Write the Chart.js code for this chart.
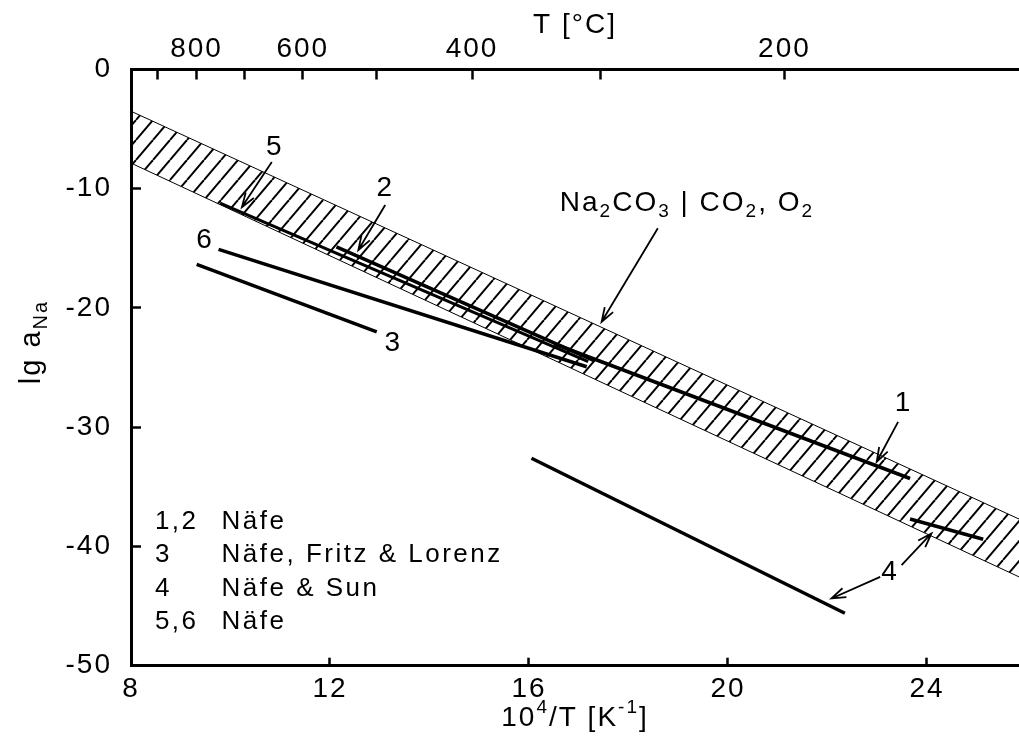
<!DOCTYPE html>
<html>
<head>
<meta charset="utf-8">
<script src="https://cdn.jsdelivr.net/npm/chart.js@4.4.0/dist/chart.umd.min.js"></script>
<style>
  html, body { margin: 0; padding: 0; background: #fff; overflow: hidden; }
</style>
</head>
<body>
<canvas id="chart" width="1019" height="742"></canvas>
<script>
// AXES
const xMin = 8, xMax = 25.85;
const xTicks = [8, 12, 16, 20, 24];
const yTicks = [-50, -40, -30, -20, -10, 0];
const celsiusTicks = [900, 800, 700, 600, 500, 400, 300, 200];
const celsiusLabels = [800, 600, 400, 200];

// HATCHED BAND (Na2CO3 | CO2, O2)
const bandX = [8, 25.85];
const bandUpper = [-3.5, -37.7];
const bandLower = [-7.85, -42.55];

// MEASURED LINES
const line1X = [16.5, 23.66], line1Y = [-23.0, -34.3];
const line2X = [12.13, 17.3], line2Y = [-14.87, -24.4];
const line3X = [9.32, 12.94], line3Y = [-16.34, -22.0];
const line4aX = [16.05, 22.35], line4aY = [-32.6, -45.6];
const line4bX = [23.66, 25.13], line4bY = [-37.7, -39.4];
const line5X = [9.79, 17.19], line5Y = [-11.2, -24.5];
const line6X = [9.76, 17.16], line6Y = [-15.08, -24.93];

// LABELS AND ARROWS
const labelText = ["5", "2", "6", "3", "1", "4"];
const labelX = [10.89, 13.11, 9.49, 13.27, 23.53, 23.26];
const labelY = [-6.5, -9.97, -14.3, -22.92, -28.0, -42.13];

const arrowX0 = [10.83, 13.11, 18.59, 23.42, 23.06, 23.49];
const arrowY0 = [-7.76, -11.37, -13.32, -29.55, -42.55, -41.57];
const arrowX1 = [10.23, 12.57, 17.46, 22.99, 22.08, 24.09];
const arrowY1 = [-11.54, -15.14, -21.16, -32.9, -44.36, -38.91];

// LEGEND BLOCK
const legendKeys = ["1,2", "3", "4", "5,6"];
const legendNames = ["Näfe", "Näfe, Fritz & Lorenz", "Näfe & Sun", "Näfe"];
const legendRowY = [-37.94, -40.73, -43.52, -46.32];
const legendKeyX = 8.48, legendNameX = 9.82;

const FONT = "'Liberation Sans', Arial, sans-serif";

function pts(xs, ys) {
    return xs.map((x, i) => ({ x: x, y: ys[i] }));
}

// hatch pattern for the band
function makeHatch(ctx) {
    const w = 17, h = 20;
    const c = document.createElement("canvas");
    c.width = w; c.height = h;
    const g = c.getContext("2d");
    g.strokeStyle = "#000";
    g.lineWidth = 2;
    for (const dx of [-w, 0, w]) {
        g.beginPath();
        g.moveTo(dx, h);
        g.lineTo(dx + w, 0);
        g.stroke();
    }
    return ctx.createPattern(c, "repeat");
}

// text with sub/superscripts: parts = [[text, 0 normal | 1 sub | 2 sup], ...]
function drawRich(ctx, parts, x, y, size, align) {
    const small = Math.round(size * 0.68);
    let total = 0;
    const widths = parts.map(p => {
        ctx.font = (p[1] ? small : size) + "px " + FONT;
        const w = ctx.measureText(p[0]).width;
        total += w;
        return w;
    });
    let cx = align === "left" ? x : x - total / 2;
    parts.forEach((p, i) => {
        ctx.font = (p[1] ? small : size) + "px " + FONT;
        let dy = 0;
        if (p[1] === 1) dy = size * 0.32;
        if (p[1] === 2) dy = -size * 0.38;
        ctx.fillText(p[0], cx, y + dy);
        cx += widths[i];
    });
}

function drawArrow(ctx, x0, y0, x1, y1) {
    const a = Math.atan2(y1 - y0, x1 - x0);
    const len = 15, spread = 0.33;
    ctx.beginPath();
    ctx.moveTo(x0, y0);
    ctx.lineTo(x1, y1);
    ctx.moveTo(x1 - len * Math.cos(a - spread), y1 - len * Math.sin(a - spread));
    ctx.lineTo(x1, y1);
    ctx.lineTo(x1 - len * Math.cos(a + spread), y1 - len * Math.sin(a + spread));
    ctx.stroke();
}

const spacingPlugin = {
    id: "spacing",
    beforeDraw(chart) {
        chart.ctx.letterSpacing = "2px";
    }
};

const notesPlugin = {
    id: "notes",
    afterDatasetsDraw(chart) {
        const ctx = chart.ctx;
        const sx = chart.scales.x, sy = chart.scales.y;
        ctx.save();
        ctx.letterSpacing = "2px";
        ctx.fillStyle = "#000";
        ctx.strokeStyle = "#000";
        ctx.textBaseline = "middle";

        // arrows
        ctx.lineWidth = 1.8;
        arrowX0.forEach((v, i) => {
            drawArrow(ctx, sx.getPixelForValue(v), sy.getPixelForValue(arrowY0[i]),
                sx.getPixelForValue(arrowX1[i]), sy.getPixelForValue(arrowY1[i]));
        });

        // number labels
        ctx.textAlign = "center";
        ctx.font = "28px " + FONT;
        labelText.forEach((t, i) => {
            ctx.fillText(t, sx.getPixelForValue(labelX[i]), sy.getPixelForValue(labelY[i]));
        });

        // Na2CO3 | CO2, O2
        ctx.textAlign = "left";
        drawRich(ctx, [["Na", 0], ["2", 1], ["CO", 0], ["3", 1], [" | CO", 0], ["2", 1], [", O", 0], ["2", 1]],
            sx.getPixelForValue(16.62), sy.getPixelForValue(-11.22), 28, "left");

        // legend block
        ctx.letterSpacing = "2.5px";
        ctx.font = "26px " + FONT;
        legendKeys.forEach((k, i) => {
            const py = sy.getPixelForValue(legendRowY[i]);
            ctx.fillText(k, sx.getPixelForValue(legendKeyX), py);
            ctx.fillText(legendNames[i], sx.getPixelForValue(legendNameX), py);
        });
        ctx.letterSpacing = "2px";

        // axis titles
        drawRich(ctx, [["10", 0], ["4", 2], ["/T [K", 0], ["-1", 2], ["]", 0]],
            (chart.chartArea.left + chart.chartArea.right) / 2, 718, 28, "center");
        ctx.translate(32, 342);
        ctx.rotate(-Math.PI / 2);
        drawRich(ctx, [["lg a", 0], ["Na", 1]], 0, 0, 29, "center");
        ctx.restore();
    }
};

const canvas = document.getElementById("chart");
const ctx = canvas.getContext("2d");
const hatch = makeHatch(ctx);

const thick = { borderColor: "#000", borderWidth: 3.5, showLine: true, pointRadius: 0, fill: false };

const chart = new Chart(ctx, {
    type: "scatter",
    data: {
        datasets: [
            Object.assign({ data: pts(line1X, line1Y) }, thick),
            Object.assign({ data: pts(line2X, line2Y) }, thick),
            Object.assign({ data: pts(line3X, line3Y) }, thick),
            Object.assign({ data: pts(line4aX, line4aY) }, thick),
            Object.assign({ data: pts(line4bX, line4bY) }, thick),
            Object.assign({ data: pts(line5X, line5Y) }, thick, { borderWidth: 3 }),
            Object.assign({ data: pts(line6X, line6Y) }, thick),
            {
                data: pts(bandX, bandUpper), showLine: true, pointRadius: 0,
                borderColor: "#000", borderWidth: 1, fill: "+1", backgroundColor: hatch
            },
            {
                data: pts(bandX, bandLower), showLine: true, pointRadius: 0,
                borderColor: "#000", borderWidth: 1, fill: false
            }
        ]
    },
    options: {
        responsive: false,
        animation: false,
        layout: { padding: 0 },
        plugins: { legend: { display: false }, tooltip: { enabled: false } },
        elements: { line: { tension: 0 } },
        scales: {
            x: {
                type: "linear", position: "bottom", min: xMin, max: xMax,
                afterBuildTicks: s => { s.ticks = xTicks.map(v => ({ value: v })); },
                afterFit: s => { s.height = 76.3; },
                border: { display: true, color: "#000", width: 3 },
                grid: { drawOnChartArea: false, tickLength: -8, tickWidth: 2.5, tickColor: "#000" },
                ticks: { color: "#000", font: { family: FONT, size: 28 }, padding: 15, maxRotation: 0, autoSkip: false }
            },
            x2: {
                type: "linear", position: "top", min: xMin, max: xMax,
                afterBuildTicks: s => { s.ticks = celsiusTicks.map(c => ({ value: 1e4 / (c + 273.15) })); },
                afterFit: s => { s.height = 69.5; },
                border: { display: true, color: "#000", width: 3 },
                grid: { drawOnChartArea: false, tickLength: -10, tickWidth: 2.5, tickColor: "#000" },
                ticks: {
                    color: "#000", font: { family: FONT, size: 28 }, padding: 13, maxRotation: 0, autoSkip: false,
                    callback: (v, i) => celsiusLabels.includes(celsiusTicks[i]) ? String(celsiusTicks[i]) : ""
                },
                title: {
                    display: true, text: "T [°C]", color: "#000",
                    font: { family: FONT, size: 28 }, padding: { top: 8, bottom: 0 }
                }
            },
            y: {
                type: "linear", position: "left", min: -50, max: 0,
                afterBuildTicks: s => { s.ticks = yTicks.map(v => ({ value: v })); },
                afterFit: s => { s.width = 131; },
                border: { display: true, color: "#000", width: 3 },
                grid: { drawOnChartArea: false, tickLength: -10, tickWidth: 2.5, tickColor: "#000" },
                ticks: { color: "#000", font: { family: FONT, size: 28 }, padding: 29, autoSkip: false }
            }
        }
    },
    plugins: [spacingPlugin, notesPlugin]
});
</script>
</body>
</html>
